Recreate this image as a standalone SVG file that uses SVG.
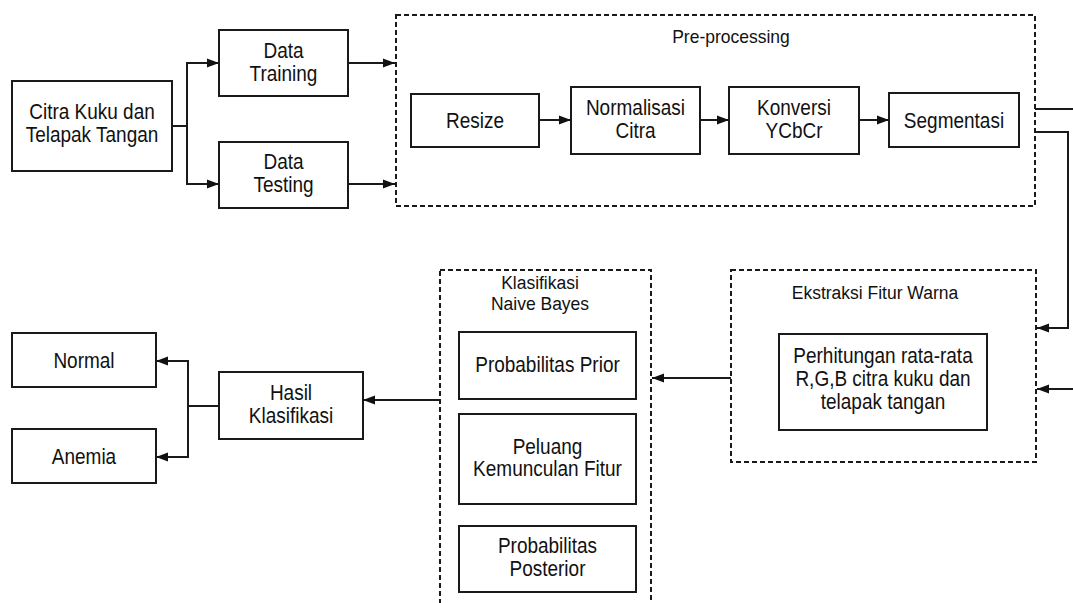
<svg xmlns="http://www.w3.org/2000/svg" width="1073" height="603" viewBox="0 0 1073 603">
<defs>
<marker id="arr" markerUnits="userSpaceOnUse" markerWidth="13" markerHeight="10" refX="12" refY="5" orient="auto">
<path d="M0,0.5 L12,5 L0,9.5 Z" fill="#111"/>
</marker>
<style>
.box{fill:#fff;stroke:#1a1a1a;stroke-width:2}
.grp{fill:#fff;stroke:#1a1a1a;stroke-width:2;stroke-dasharray:5,3}
.lbl{font-family:"Liberation Sans",Arial,sans-serif;font-size:19px;fill:#111;text-anchor:middle;transform-box:fill-box;transform-origin:center;transform:scaleY(1.12)}
.ttl{font-family:"Liberation Sans",Arial,sans-serif;font-size:17.5px;fill:#111;text-anchor:middle;transform-box:fill-box;transform-origin:center;transform:scaleY(1.1)}
.con{fill:none;stroke:#1a1a1a;stroke-width:2}
.ah{marker-end:url(#arr)}
</style>
</defs>
<rect width="1073" height="603" fill="#fff"/>

<g id="preprocessing">
<rect class="grp" x="396" y="15" width="639" height="191"/>
<text class="ttl" x="731" y="42">Pre-processing</text>
</g>
<g id="ekstraksi">
<rect class="grp" x="731" y="270" width="305" height="192"/>
<text class="ttl" x="875" y="298">Ekstraksi Fitur Warna</text>
</g>
<g id="klasifikasi">
<rect class="grp" x="440" y="270" width="211" height="360"/>
<text class="ttl" x="540" y="288">Klasifikasi</text>
<text class="ttl" x="540" y="309">Naive Bayes</text>
</g>

<g id="connectors">
<path class="con ah" d="M172,126 H187 V63 H219"/>
<path class="con ah" d="M187,126 V184 H219"/>
<path class="con ah" d="M348,63 H395"/>
<path class="con ah" d="M348,184 H395"/>
<path class="con ah" d="M539,120 H571"/>
<path class="con ah" d="M700,120 H729"/>
<path class="con ah" d="M859,120 H889"/>
<path class="con" d="M1035,109 H1073"/>
<path class="con ah" d="M1035,132 H1068 V328 H1037"/>
<path class="con ah" d="M1073,389 H1037"/>
<path class="con ah" d="M731,378 H652"/>
<path class="con ah" d="M440,400 H363"/>
<path class="con ah" d="M219,406 H188 V361 H156"/>
<path class="con ah" d="M188,406 V457 H156"/>
</g>

<g id="citra">
<rect class="box" x="12" y="81" width="160" height="90"/>
<text class="lbl" x="92" y="118">Citra Kuku dan</text>
<text class="lbl" x="92" y="141">Telapak Tangan</text>
</g>
<g id="training">
<rect class="box" x="219" y="30" width="129" height="66"/>
<text class="lbl" x="283.5" y="57">Data</text>
<text class="lbl" x="283.5" y="80">Training</text>
</g>
<g id="testing">
<rect class="box" x="219" y="142" width="129" height="66"/>
<text class="lbl" x="283.5" y="168">Data</text>
<text class="lbl" x="283.5" y="191">Testing</text>
</g>
<g id="resize">
<rect class="box" x="411" y="94" width="128" height="53"/>
<text class="lbl" x="475" y="127">Resize</text>
</g>
<g id="normalisasi">
<rect class="box" x="571" y="87" width="129" height="67"/>
<text class="lbl" x="635.5" y="114">Normalisasi</text>
<text class="lbl" x="635.5" y="137">Citra</text>
</g>
<g id="konversi">
<rect class="box" x="729" y="87" width="130" height="67"/>
<text class="lbl" x="794" y="114">Konversi</text>
<text class="lbl" x="794" y="137">YCbCr</text>
</g>
<g id="segmentasi">
<rect class="box" x="889" y="93" width="130" height="54"/>
<text class="lbl" x="954" y="127">Segmentasi</text>
</g>
<g id="perhitungan">
<rect class="box" x="779" y="334" width="208" height="96"/>
<text class="lbl" x="883" y="362">Perhitungan rata-rata</text>
<text class="lbl" x="883" y="385">R,G,B citra kuku dan</text>
<text class="lbl" x="883" y="408">telapak tangan</text>
</g>
<g id="prior">
<rect class="box" x="459" y="332" width="177" height="67"/>
<text class="lbl" x="547.5" y="371">Probabilitas Prior</text>
</g>
<g id="peluang">
<rect class="box" x="459" y="414" width="177" height="90"/>
<text class="lbl" x="547.5" y="453">Peluang</text>
<text class="lbl" x="547.5" y="475">Kemunculan Fitur</text>
</g>
<g id="posterior">
<rect class="box" x="459" y="526" width="177" height="66"/>
<text class="lbl" x="547.5" y="552">Probabilitas</text>
<text class="lbl" x="547.5" y="575">Posterior</text>
</g>
<g id="hasil">
<rect class="box" x="219" y="372" width="144" height="67"/>
<text class="lbl" x="291" y="399">Hasil</text>
<text class="lbl" x="291" y="422">Klasifikasi</text>
</g>
<g id="normal">
<rect class="box" x="12" y="333" width="144" height="54"/>
<text class="lbl" x="84" y="367">Normal</text>
</g>
<g id="anemia">
<rect class="box" x="12" y="429" width="144" height="54"/>
<text class="lbl" x="84" y="463">Anemia</text>
</g>
</svg>
